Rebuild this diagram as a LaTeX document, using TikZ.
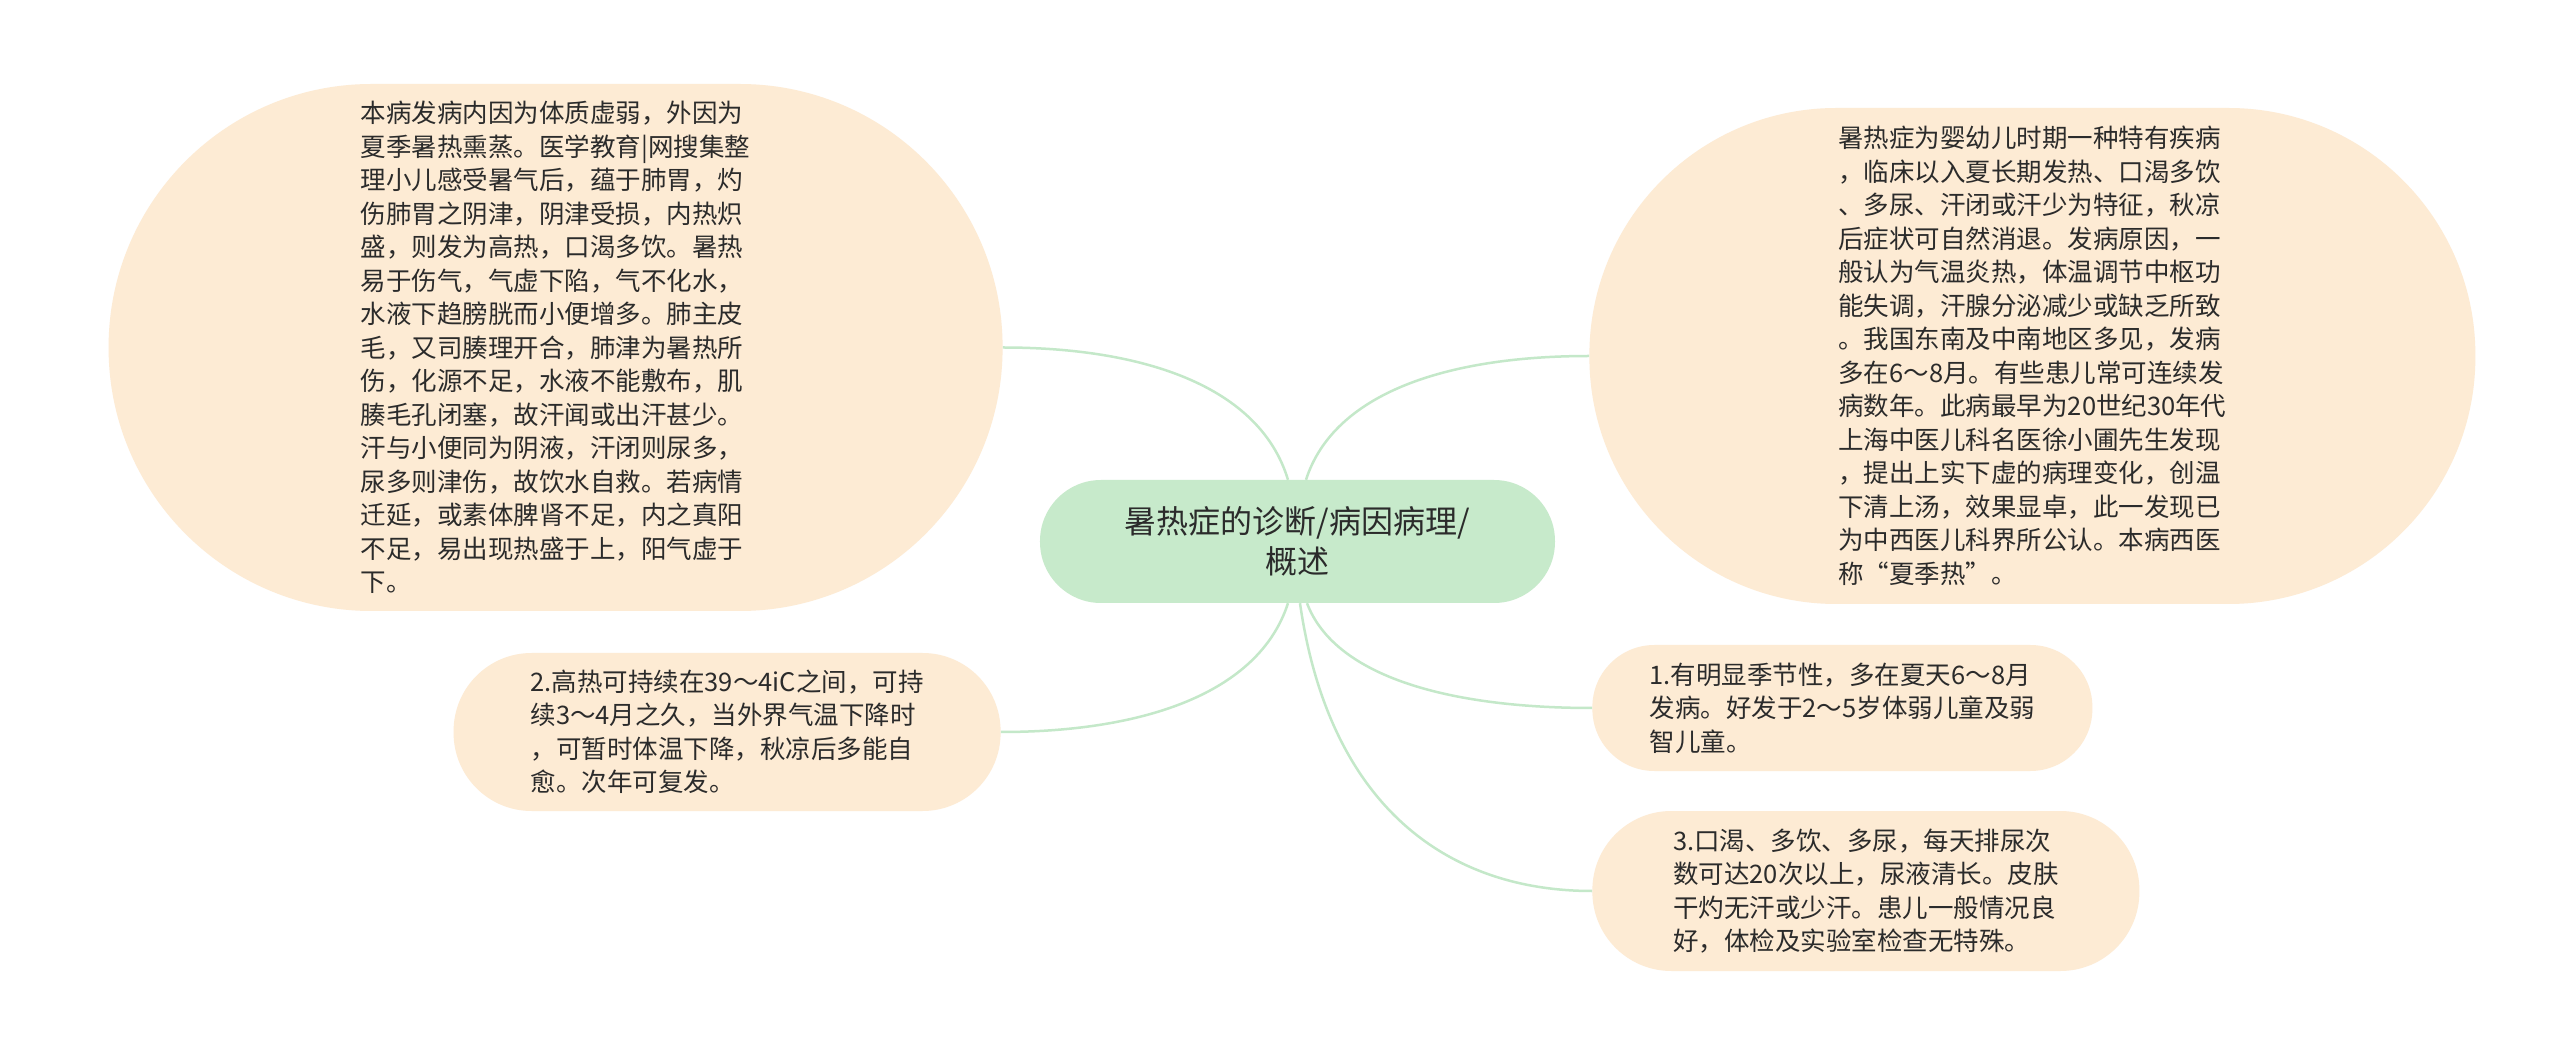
\documentclass[tikz,border=0pt]{standalone}
\usepackage{fontspec}
\setmainfont{Noto Sans CJK SC}
\usepackage{xcolor}
\usepackage{tikz}
\usetikzlibrary{shapes,positioning}
\definecolor{peach}{HTML}{FDEBD4}
\definecolor{mint}{HTML}{C7EACB}
\definecolor{stem}{HTML}{C4E8C9}
\definecolor{ink}{HTML}{2B2B2B}
\tikzstyle{bubble} = [rectangle, fill=peach, text=ink, align=left,
    inner sep=0pt, font=\fontsize{25.5}{33.5}\selectfont]
\tikzstyle{hub} = [rectangle, fill=mint, text=ink, align=center, rounded corners=61pt,
    inner sep=0pt, minimum width=515pt, minimum height=123pt, font=\fontsize{32}{40}\selectfont]
\tikzstyle{branch} = [draw=stem, line width=2.5pt]

\begin{document}
\begin{tikzpicture}[x=1pt, y=1pt]
  % Canvas
  \fill [white] (-1297.5,-515.5) rectangle (1262.5,541.5);
  \useasboundingbox (-1297.5,-515.5) rectangle (1262.5,541.5);
  % Place nodes
  \node [hub] (hub) at (0,0) {暑热症的诊断/病因病理/\\概述};
  \node [bubble, minimum width=894pt, minimum height=527pt, rounded corners=263pt,
    left=37pt of hub, yshift=194pt] (cause) {本病发病内因为体质虚弱，外因为\\夏季暑热熏蒸。医学教育|网搜集整\\理小儿感受暑气后，蕴于肺胃，灼\\伤肺胃之阴津，阴津受损，内热炽\\盛，则发为高热，口渴多饮。暑热\\易于伤气，气虚下陷，气不化水，\\水液下趋膀胱而小便增多。肺主皮\\毛，又司腠理开合，肺津为暑热所\\伤，化源不足，水液不能敷布，肌\\腠毛孔闭塞，故汗闻或出汗甚少。\\汗与小便同为阴液，汗闭则尿多，\\尿多则津伤，故饮水自救。若病情\\迁延，或素体脾肾不足，内之真阳\\不足，易出现热盛于上，阳气虚于\\下。};
  \node [bubble, minimum width=547pt, minimum height=158pt, rounded corners=78pt,
    left=39pt of hub, yshift=-190.5pt] (fever) {2.高热可持续在39～4iC之间，可持\\续3～4月之久，当外界气温下降时\\，可暂时体温下降，秋凉后多能自\\愈。次年可复发。};
  \node [bubble, minimum width=886pt, minimum height=496pt, rounded corners=247pt,
    right=34pt of hub, yshift=185.5pt] (overview) {暑热症为婴幼儿时期一种特有疾病\\，临床以入夏长期发热、口渴多饮\\、多尿、汗闭或汗少为特征，秋凉\\后症状可自然消退。发病原因，一\\般认为气温炎热，体温调节中枢功\\能失调，汗腺分泌减少或缺乏所致\\。我国东南及中南地区多见，发病\\多在6～8月。有些患儿常可连续发\\病数年。此病最早为20世纪30年代\\上海中医儿科名医徐小圃先生发现\\，提出上实下虚的病理变化，创温\\下清上汤，效果显卓，此一发现已\\为中西医儿科界所公认。本病西医\\称“夏季热”。};
  \node [bubble, minimum width=500pt, minimum height=126pt, rounded corners=62pt,
    right=37pt of hub, yshift=-166.5pt] (season) {1.有明显季节性，多在夏天6～8月\\发病。好发于2～5岁体弱儿童及弱\\智儿童。};
  \node [bubble, minimum width=547pt, minimum height=160pt, rounded corners=79pt,
    right=37pt of hub, yshift=-349.5pt] (thirst) {3.口渴、多饮、多尿，每天排尿次\\数可达20次以上，尿液清长。皮肤\\干灼无汗或少汗。患儿一般情况良\\好，体检及实验室检查无特殊。};
  % Draw edges
  \path [branch] ([xshift=-9.5pt]hub.north) .. controls +(-28,93) and +(142,0) .. (cause.east);
  \path [branch] ([xshift=8.5pt]hub.north) .. controls +(28,87) and +(-142,0) .. (overview.west);
  \path [branch] ([xshift=-9.5pt]hub.south) .. controls +(-29,-90) and +(143,0) .. (fever.east);
  \path [branch] ([xshift=9.5pt]hub.south) .. controls +(28,-74) and +(-142,0) .. (season.west);
  \path [branch] ([xshift=2.5pt]hub.south) .. controls +(29,-202) and +(-146,0) .. (thirst.west);
\end{tikzpicture}
\end{document}
